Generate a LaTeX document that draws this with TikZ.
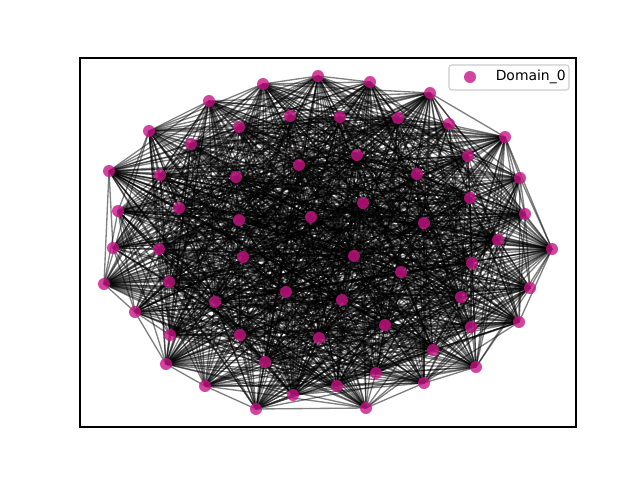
\documentclass[tikz,border=0pt]{standalone}
\usepackage{fontspec}
\setmainfont{DejaVu Sans}
\usetikzlibrary{positioning, backgrounds}
\definecolor{domaincol}{RGB}{199,21,133}

\begin{document}
\begin{tikzpicture}[x=0.025cm, y=-0.025cm]
        \tikzstyle{dot} = [circle, inner sep=0pt, minimum size=0.3cm, fill=domaincol, fill opacity=0.8, draw=none]
        \tikzstyle{edge} = [black, draw opacity=0.5, line width=0.95pt]
        \tikzstyle{legendbox} = [rectangle, rounded corners=2pt, draw=black!20, fill=white, fill opacity=0.8, line width=0.8pt]

        \useasboundingbox (0,0) rectangle (640,480);

        \foreach \x/\y [count=\k] in {318/76, 370/82, 430/93, 505/137, 520/178, 525/214, 552/249, 530/288,
            519/322, 476/367, 424/383, 366/408, 337/386, 293/395, 256/409, 205/386, 166/364, 135/312,
            104/284, 113/248, 118/211, 109/171, 149/131, 209/101, 263/84,
            290/116, 340/117, 398/118, 449/124, 468/156, 470/198, 498/240, 472/263, 461/297, 471/327,
            433/350, 376/373, 319/338, 265/362, 240/335, 170/335, 169/282, 159/249, 179/208, 160/175,
            191/144, 239/127,
            299/165, 357/155, 417/174, 424/223, 236/177, 239/220, 311/217, 363/203, 243/257, 354/256,
            401/272, 215/302, 286/292, 342/300, 385/325}
            \node[dot] (v\k) at (\x,\y) {};

        \begin{scope}[on background layer]
            \pgfmathsetseed{2024}
            \foreach \i in {1,...,61} {
                \pgfmathtruncatemacro\nxt{\i+1}
                \foreach \j in {\nxt,...,62} {
                    \pgfmathtruncatemacro\hit{rnd<0.62}
                    \ifnum\hit=1 \draw[edge] (v\i.center) -- (v\j.center); \fi
                }
            }
        \end{scope}

        \draw[line width=0.8pt] (80,58) rectangle (576,427);

        \node[legendbox, minimum width=3cm, minimum height=0.625cm] (legend) at (509,77.5) {};
        \node[dot] (key) at (470,77) {};
        \node[right=0.48cm of key, inner sep=0pt, font=\fontsize{9.9}{12}\selectfont] (keytext) {Domain\_0};
\end{tikzpicture}
\end{document}
